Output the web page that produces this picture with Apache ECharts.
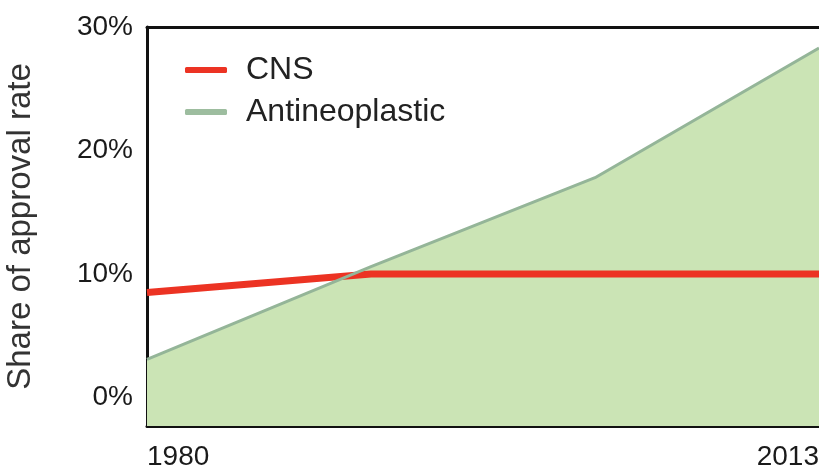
<!DOCTYPE html>
<html>
<head>
<meta charset="utf-8">
<script src="https://cdn.jsdelivr.net/npm/echarts@6/dist/echarts.min.js"></script>
<style>
  html, body { margin: 0; padding: 0; background: #fff; }
  #chart { width: 819px; height: 471px; }
</style>
</head>
<body>
<div id="chart"></div>
<script>
const years = [1980, 1991, 2002, 2013];
const cnsShare = [8.5, 10, 10, 10];
const antineoplasticShare = [3.1, 10.6, 17.8, 28.3];
const yTicks = [0, 10, 20, 30];
const xTicks = [1980, 2013];

const font = 'Liberation Sans, Arial, Helvetica, sans-serif';
const pairs = (vals) => years.map((y, i) => [y, vals[i]]);
const frame = { show: true, onZero: false, lineStyle: { color: '#111', width: 3 } };

const chart = echarts.init(document.getElementById('chart'));

chart.setOption({
  animation: false,
  grid: {
    left: 147,
    top: 27,
    right: 0,
    bottom: 45,
    outerBoundsMode: 'none',
    containLabel: false,
  },
  legend: {
    orient: 'vertical',
    left: 180,
    top: 49,
    itemGap: 10,
    itemWidth: 42,
    itemHeight: 6,
    icon: 'roundRect',
    textStyle: {
      fontFamily: font,
      fontSize: 32,
      color: '#222',
      padding: [0, 0, 0, 14],
    },
    data: [
      { name: 'CNS', itemStyle: { color: '#ec3323' } },
      { name: 'Antineoplastic', itemStyle: { color: '#9dbd9f' } },
    ],
  },
  xAxis: [
    {
      type: 'value',
      min: 1980,
      max: 2013,
      splitLine: { show: false },
      axisLine: frame,
      axisTick: { show: false },
      axisLabel: {
        customValues: xTicks,
        margin: 17,
        fontFamily: font,
        fontSize: 28,
        color: '#1a1a1a',
        alignMinLabel: 'left',
        alignMaxLabel: 'right',
        showMinLabel: true,
        showMaxLabel: true,
        formatter: (v) => String(v),
      },
    },
    {
      type: 'value',
      position: 'top',
      min: 1980,
      max: 2013,
      splitLine: { show: false },
      axisLine: frame,
      axisTick: { show: false },
      axisLabel: { show: false },
    },
  ],
  yAxis: {
    type: 'value',
    min: -2.3,
    max: 30,
    name: 'Share of approval rate',
    nameLocation: 'middle',
    nameGap: 110,
    nameTextStyle: { fontFamily: font, fontSize: 33, color: '#333' },
    splitLine: { show: false },
    axisLine: frame,
    axisTick: { show: false },
    axisLabel: {
      customValues: yTicks,
      margin: 14,
      fontFamily: font,
      fontSize: 28,
      color: '#1a1a1a',
      formatter: (v) => v + '%',
    },
  },
  series: [
    {
      name: 'Antineoplastic',
      type: 'line',
      data: pairs(antineoplasticShare),
      symbol: 'none',
      lineStyle: { width: 0 },
      itemStyle: { color: '#9dbd9f' },
      areaStyle: { color: '#cbe4b5', opacity: 1, origin: 'start' },
      z: 1,
    },
    {
      name: 'CNS',
      type: 'line',
      data: pairs(cnsShare),
      symbol: 'none',
      lineStyle: { width: 7, color: '#ec3323' },
      itemStyle: { color: '#ec3323' },
      z: 2,
    },
    {
      name: 'Antineoplastic',
      type: 'line',
      data: pairs(antineoplasticShare),
      symbol: 'none',
      lineStyle: { width: 3, color: '#94b598' },
      itemStyle: { color: '#9dbd9f' },
      z: 3,
    },
  ],
});
</script>
</body>
</html>
